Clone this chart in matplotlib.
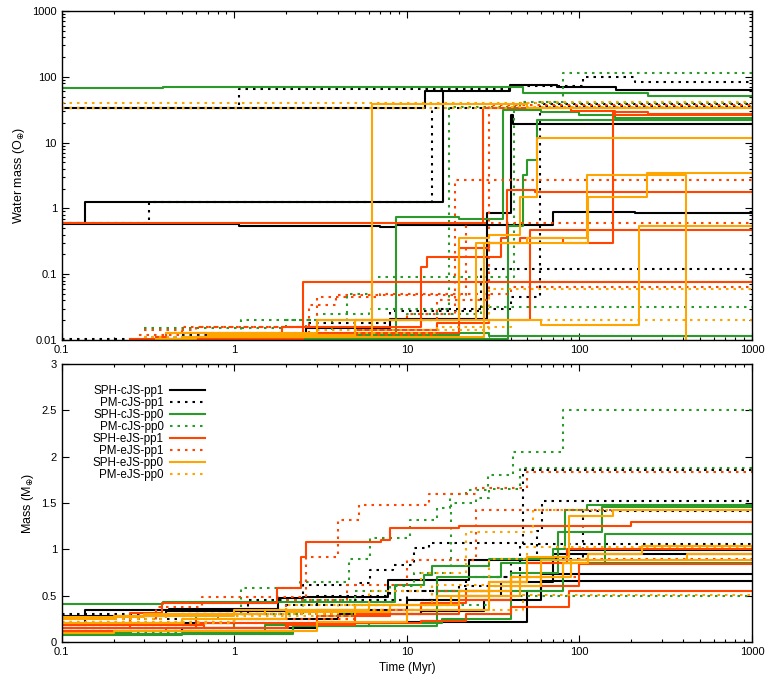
import matplotlib
matplotlib.use("Agg")
import matplotlib.pyplot as plt
from matplotlib.ticker import FixedLocator, FuncFormatter, LogLocator, NullFormatter

plt.rcParams['font.family'] = ['Liberation Sans', 'DejaVu Sans']
plt.rcParams['font.size'] = 8

# each track: (times incl. end time, values)  -> drawn as post steps
# ---- water mass (top panel)
water_sph_cjs_pp1 = [
    ([0.1, 12.7, 39.5, 74, 163, 1000], [33, 60, 75, 70, 64]),
    ([0.1, 0.136, 16.2, 16.25], [0.6, 1.25, 58]),
    ([0.1, 1.07, 7, 8.7, 70, 210, 1000], [0.58, 0.55, 0.53, 0.57, 0.88, 0.85]),
    ([0.42, 1.8, 2.6, 8, 29, 40, 41, 1000], [0.0105, 0.012, 0.015, 0.021, 0.85, 26, 19]),
]
water_pm_cjs_pp1 = [
    ([0.1, 1.07, 39.5, 105, 210, 1000], [33, 65, 72, 100, 82]),
    ([0.1, 0.32, 14, 60, 1000], [0.6, 1.25, 34, 38]),
    ([0.1, 2.6, 8, 27, 1000], [0.0105, 0.018, 0.028, 0.12]),
    ([0.5, 5, 15, 40, 59, 1000], [0.012, 0.02, 0.03, 0.045, 36]),
]
water_sph_cjs_pp0 = [
    ([0.1, 0.385, 47, 250, 1000], [68, 70, 57, 51]),
    ([1.0, 8.6, 20, 36, 60, 100, 160, 1000], [0.011, 0.74, 0.68, 31, 29, 26, 24]),
    ([0.8, 38.5, 47, 50, 57, 1000], [0.0105, 0.55, 3.2, 5.5, 22]),
    ([0.5, 3, 20, 30, 1000], [0.011, 0.012, 0.013, 0.0115]),
]
water_pm_cjs_pp0 = [
    ([0.4, 1.1, 3, 6, 17.5, 45, 80, 1000], [0.011, 0.02, 0.025, 0.03, 35, 42, 114]),
    ([0.3, 2, 4.5, 6.3, 41.7, 1000], [0.015, 0.02, 0.05, 0.09, 40]),
    ([0.3, 3.7, 10, 27, 1000], [0.011, 0.02, 0.025, 0.032]),
]
water_sph_ejs_pp1 = [
    ([0.1, 0.59, 27.5, 90, 160, 1000], [0.6, 0.61, 34, 30, 26]),
    ([0.35, 0.4, 1.9, 12, 13, 35, 38, 55, 1000], [0.011, 0.013, 0.016, 0.13, 0.18, 0.35, 1.9, 1.75]),
    ([0.25, 2.5, 1000], [0.0105, 0.075]),
    ([0.6, 3, 20, 30, 45, 80, 156, 250, 1000], [0.011, 0.013, 0.25, 0.3, 0.35, 0.3, 29, 27]),
    ([1, 5, 15, 30, 52, 1000], [0.011, 0.014, 0.018, 0.02, 0.47]),
]
water_pm_ejs_pp1 = [
    ([0.28, 0.5, 3, 10, 19, 1000], [0.012, 0.016, 0.02, 0.025, 2.7]),
    ([0.6, 2.7, 3.9, 22, 1000], [0.013, 0.034, 0.048, 0.6]),
    ([0.3, 0.6, 3, 7, 40, 1000], [0.014, 0.016, 0.045, 0.05, 0.065]),
    ([1.5, 15, 30, 1000], [0.012, 0.04, 37]),
]
water_sph_ejs_pp0 = [
    ([0.35, 0.6, 6.3, 50, 1000], [0.0105, 0.011, 38, 33]),
    ([0.5, 5, 20, 30, 45, 57, 1000], [0.011, 0.02, 0.35, 0.4, 1.5, 11.7]),
    ([0.7, 5, 25, 112, 246, 1000], [0.012, 0.02, 0.3, 1.5, 3.4]),
    ([1.2, 28, 60, 222, 1000], [0.011, 0.02, 0.017, 0.55]),
    ([0.4, 3, 28, 50, 110, 414, 1000], [0.013, 0.02, 0.3, 0.35, 3.2, 1e-4]),
]
water_pm_ejs_pp0 = [
    ([0.1, 60, 1000], [40, 42]),
    ([0.1, 40, 1000], [33, 35]),
    ([0.3, 3, 30, 1000], [0.011, 0.014, 0.06]),
    ([0.5, 5, 15, 40, 1000], [0.011, 0.013, 0.016, 0.02]),
]

# ---- total mass (bottom panel)
mass_sph_cjs_pp1 = [
    ([0.1, 0.136, 0.42, 1.8, 2.5, 7.8, 23, 85, 1000], [0.18, 0.35, 0.36, 0.47, 0.49, 0.67, 0.88, 0.99]),
    ([0.1, 0.5, 3, 8, 50, 60, 1000], [0.12, 0.15, 0.2, 0.22, 0.55, 0.73]),
    ([0.1, 1, 4, 12, 28, 60, 1000], [0.2, 0.25, 0.3, 0.33, 0.45, 0.66]),
    ([0.1, 0.4, 3, 10, 20, 35, 70, 1000], [0.28, 0.33, 0.35, 0.45, 0.5, 0.65, 0.95]),
]
mass_pm_cjs_pp1 = [
    ([0.1, 0.5, 1.2, 2.5, 5.3, 6.1, 8.3, 11, 13.5, 47, 1000],
     [0.2, 0.3, 0.45, 0.62, 0.64, 0.78, 0.83, 1.02, 1.07, 1.86]),
    ([0.1, 0.8, 3, 8, 20, 40, 57, 61, 1000], [0.25, 0.35, 0.5, 0.55, 0.6, 0.9, 1.2, 1.52]),
    ([0.1, 2, 10, 22, 45, 105, 1000], [0.3, 0.4, 0.55, 0.7, 0.9, 1.41]),
    ([0.1, 1, 5, 15, 30, 45, 1000], [0.2, 0.3, 0.45, 0.55, 0.7, 1.06]),
]
mass_sph_cjs_pp0 = [
    ([0.1, 0.385, 8.5, 12.5, 14, 30, 70, 83, 110, 1000], [0.41, 0.43, 0.62, 0.72, 0.82, 0.9, 1.0, 1.42, 1.48]),
    ([0.1, 0.25, 1.5, 5, 15, 40, 75, 135, 1000], [0.1, 0.12, 0.18, 0.3, 0.55, 0.75, 1.19, 1.46]),
    ([0.1, 0.5, 2.2, 6, 16, 40, 80, 140, 1000], [0.08, 0.1, 0.17, 0.2, 0.25, 0.55, 0.85, 1.17]),
    ([0.1, 2.2, 15, 35, 1000], [0.09, 0.17, 0.7, 0.85]),
]
mass_pm_cjs_pp0 = [
    ([0.1, 0.5, 1.1, 2.4, 4.6, 6.1, 10.4, 15, 17.8, 22, 29.6, 41, 80, 1000],
     [0.2, 0.3, 0.58, 0.65, 0.9, 1.12, 1.32, 1.45, 1.6, 1.64, 1.8, 2.05, 2.5]),
    ([0.1, 0.6, 2.5, 5, 8, 11, 18, 25, 30, 45, 1000], [0.15, 0.3, 0.45, 0.55, 0.6, 0.75, 1.5, 1.55, 1.65, 1.88]),
    ([0.1, 1, 4, 12, 30, 1000], [0.1, 0.2, 0.3, 0.4, 0.5]),
]
mass_sph_ejs_pp1 = [
    ([0.1, 0.25, 0.38, 1.77, 2.45, 2.6, 7.1, 8, 20, 200, 1000],
     [0.15, 0.31, 0.42, 0.58, 0.92, 1.08, 1.1, 1.23, 1.25, 1.3]),
    ([0.1, 0.6, 3, 8, 12, 22, 30, 50, 85, 1000], [0.15, 0.2, 0.28, 0.35, 0.42, 0.55, 0.65, 0.85, 1.0]),
    ([0.1, 0.4, 2, 5, 20, 40, 100, 1000], [0.12, 0.15, 0.18, 0.3, 0.45, 0.6, 0.84]),
    ([0.1, 0.67, 2.05, 12, 22, 40, 87, 1000], [0.18, 0.15, 0.2, 0.23, 0.3, 0.38, 0.55]),
]
mass_pm_ejs_pp1 = [
    ([0.1, 0.35, 0.65, 2.6, 4.0, 5.3, 13.5, 25, 50, 1000], [0.2, 0.38, 0.49, 0.92, 1.32, 1.48, 1.6, 1.66, 1.83]),
    ([0.1, 0.6, 2, 4.5, 10, 25, 1000], [0.2, 0.3, 0.45, 0.62, 0.88, 1.42]),
    ([0.1, 1, 5, 15, 40, 100, 1000], [0.15, 0.25, 0.35, 0.55, 0.7, 0.9]),
]
mass_sph_ejs_pp0 = [
    ([0.1, 0.2, 1, 5, 15, 30, 50, 87, 156, 1000], [0.25, 0.28, 0.35, 0.4, 0.5, 0.65, 0.92, 1.36, 1.42]),
    ([0.1, 0.5, 2, 8, 20, 40, 80, 112, 230, 1000], [0.2, 0.25, 0.32, 0.4, 0.55, 0.7, 0.85, 0.95, 1.04]),
    ([0.1, 0.3, 1.5, 6, 18, 45, 90, 420, 1000], [0.27, 0.3, 0.35, 0.4, 0.5, 0.7, 0.88, 0.95]),
    ([0.1, 0.2, 3, 10, 30, 60, 1000], [0.1, 0.12, 0.22, 0.35, 0.6, 0.88]),
]
mass_pm_ejs_pp0 = [
    ([0.1, 0.4, 2, 6, 12, 22, 54, 1000], [0.25, 0.3, 0.4, 0.55, 0.75, 1.19, 1.42]),
    ([0.1, 1, 4, 14, 30, 50, 1000], [0.2, 0.3, 0.4, 0.62, 0.9, 1.03]),
    ([0.1, 1, 5, 47, 1000], [0.22, 0.28, 0.35, 0.51]),
]

labels = ['SPH-cJS-pp1', 'PM-cJS-pp1', 'SPH-cJS-pp0', 'PM-cJS-pp0',
          'SPH-eJS-pp1', 'PM-eJS-pp1', 'SPH-eJS-pp0', 'PM-eJS-pp0']
colors = ['black', 'black', '#2a9a2a', '#2a9a2a', '#ff4500', '#ff4500', '#ffa500', '#ffa500']
dotted = (0, (1.2, 2.4))
styles = ['-', dotted] * 4

water_sets = [water_sph_cjs_pp1, water_pm_cjs_pp1, water_sph_cjs_pp0, water_pm_cjs_pp0,
              water_sph_ejs_pp1, water_pm_ejs_pp1, water_sph_ejs_pp0, water_pm_ejs_pp0]
mass_sets = [mass_sph_cjs_pp1, mass_pm_cjs_pp1, mass_sph_cjs_pp0, mass_pm_cjs_pp0,
             mass_sph_ejs_pp1, mass_pm_ejs_pp1, mass_sph_ejs_pp0, mass_pm_ejs_pp0]


def draw(ax, sets, with_label=False):
    for i, tracks in enumerate(sets):
        for j, (t, v) in enumerate(tracks):
            lab = labels[i] if (with_label and j == 0) else None
            ax.step(t, v + [v[-1]], where='post', color=colors[i], ls=styles[i],
                    lw=1.5, label=lab)


def style(ax):
    ax.set_xscale('log')
    ax.set_xlim(0.1, 1000)
    ax.xaxis.set_major_locator(FixedLocator([0.1, 1, 10, 100, 1000]))
    ax.xaxis.set_major_formatter(FuncFormatter(lambda x, p: '%g' % x))
    ax.xaxis.set_minor_locator(LogLocator(base=10, subs=range(2, 10), numticks=20))
    ax.xaxis.set_minor_formatter(NullFormatter())
    ax.tick_params(which='both', direction='in', top=True, right=True, labelsize=8)
    ax.tick_params(which='major', length=5, width=0.8)
    ax.tick_params(which='minor', length=2.5, width=0.8)
    for s in ax.spines.values():
        s.set_linewidth(1.0)


fig = plt.figure(figsize=(7.72, 6.87), dpi=100)
ax1 = fig.add_axes([0.080, 0.505, 0.894, 0.479])
ax2 = fig.add_axes([0.080, 0.0655, 0.894, 0.4045])

draw(ax1, water_sets)
style(ax1)
ax1.set_yscale('log')
ax1.set_ylim(0.01, 1000)
ax1.yaxis.set_major_locator(FixedLocator([0.01, 0.1, 1, 10, 100, 1000]))
ax1.yaxis.set_major_formatter(FuncFormatter(lambda y, p: '%g' % y))
ax1.yaxis.set_minor_locator(LogLocator(base=10, subs=range(2, 10), numticks=20))
ax1.yaxis.set_minor_formatter(NullFormatter())
ax1.set_ylabel(r'Water mass (O$_{\oplus}$)', fontsize=9)

draw(ax2, mass_sets, with_label=True)
style(ax2)
ax2.set_ylim(0, 3)
ax2.yaxis.set_major_locator(FixedLocator([0, 0.5, 1, 1.5, 2, 2.5, 3]))
ax2.yaxis.set_major_formatter(FuncFormatter(lambda y, p: '%g' % y))
ax2.set_ylabel(r'Mass (M$_{\oplus}$)', fontsize=9)
ax2.set_xlabel('Time (Myr)', fontsize=8.5)
ax2.legend(loc='upper right', bbox_to_anchor=(0.215, 0.94), frameon=False,
           markerfirst=False, handlelength=3.0, handletextpad=0.6,
           labelspacing=0.0, fontsize=8.4, borderaxespad=0)

fig.savefig('out.png', dpi=100)
